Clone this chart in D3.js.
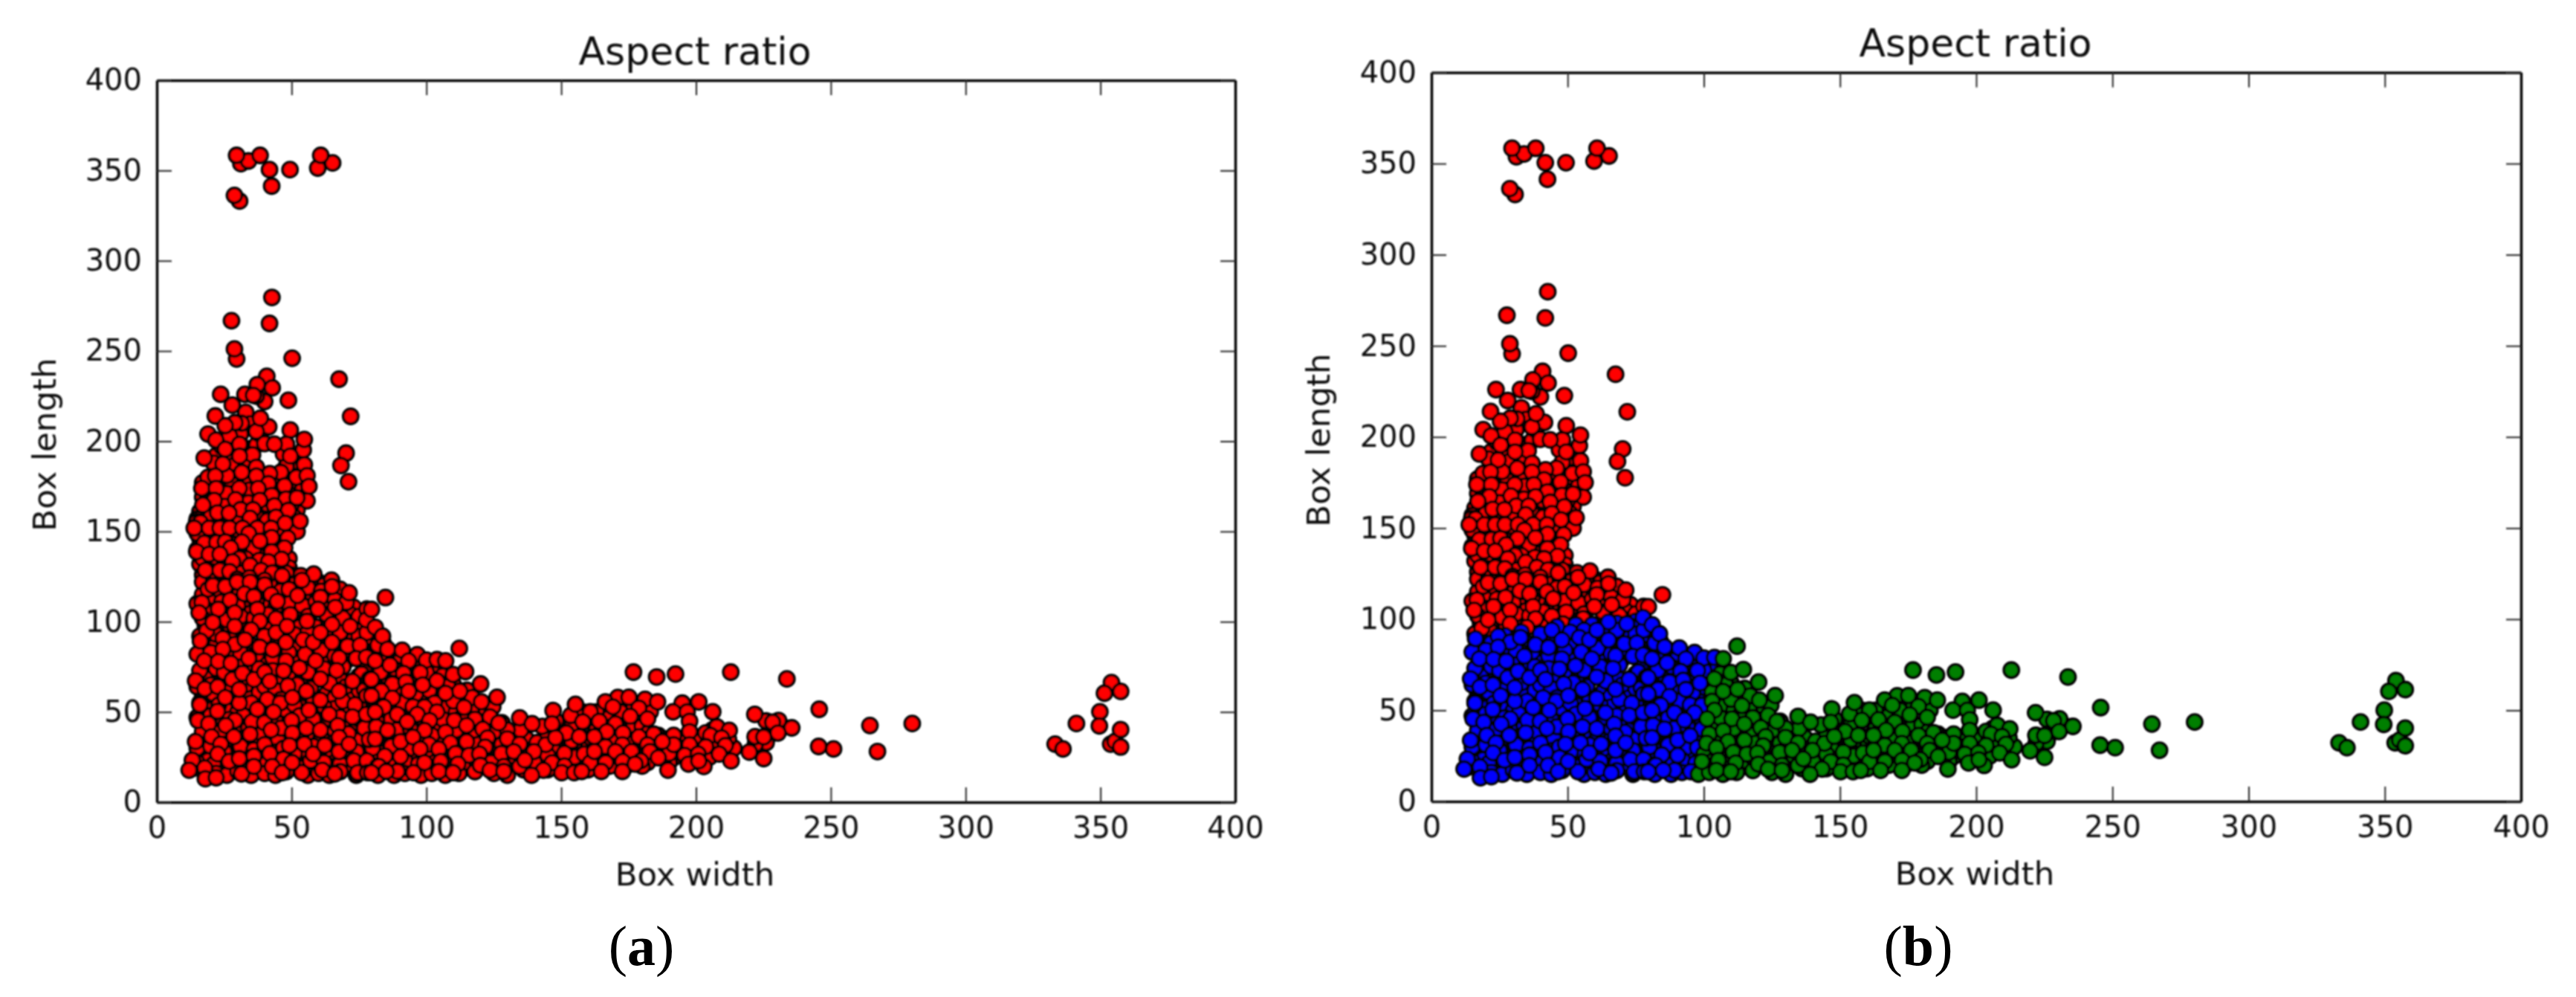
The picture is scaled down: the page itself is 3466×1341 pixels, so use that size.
<!DOCTYPE html>
<html><head><meta charset="utf-8"><script src="https://cdn.jsdelivr.net/npm/d3@7"></script>
<style>html,body{margin:0;background:#fff}svg{display:block}</style></head><body>
<svg id="c" width="3466" height="1341"></svg>
<script>
const chartTitle = "Aspect ratio", xName = "Box width", yName = "Box length";
const tickValues = [0,50,100,150,200,250,300,350,400];
const centroids = [[28,145],[47,45],[153,32]];
const clusterColors = ["#ff0000","#0000ff","#007f00"];

const deepColumn = [[22,192],[26,190],[31,190],[36,183],[43,177],[52,185],[17,177],[22,176],[28,176],[33,177],[39,177],[44,176],[49,173],[53,177],[17,169],[23,169],[28,171],[32,169],[36,170],[40,168],[45,168],[49,169],[53,171],[16,161],[20,162],[25,161],[32,160],[36,160],[39,161],[45,161],[48,158],[52,162],[18,154],[22,155],[26,155],[30,155],[35,154],[39,155],[44,154],[49,152],[52,150],[16,146],[20,145],[24,147],[28,146],[32,147],[35,145],[39,147],[44,146],[47,144],[15,140],[21,139],[24,140],[30,140],[35,138],[40,139],[45,138],[49,135],[16,132],[20,131],[24,132],[29,130],[32,131],[37,131],[40,132],[44,132],[49,130],[17,126],[22,126],[27,124],[32,126],[36,125],[41,126],[46,128],[50,126],[55,123],[60,122],[67,118]];
const deepBlock = [[17,115],[21,114],[26,114],[30,115],[34,118],[39,117],[44,118],[47,114],[50,112],[55,116],[58,114],[63,111],[68,114],[73,108],[18,106],[25,105],[33,107],[35,105],[40,108],[46,106],[52,107],[57,105],[62,108],[69,106],[75,99],[18,98],[23,97],[27,98],[32,99],[40,97],[46,96],[50,100],[53,97],[59,97],[63,96],[68,98],[74,96],[80,97],[19,87],[22,87],[27,88],[31,86],[35,87],[41,88],[46,84],[51,86],[56,86],[62,88],[68,89],[73,90],[78,86],[84,88],
[18,83],[24,79],[29,80],[33,82],[37,77],[41,79],[45,78],[51,79],[55,77],[61,79],[64,77],[70,78],[76,79],[81,83],[87,81],[90,78],[18,71],[20,70],[25,68],[30,71],[34,72],[38,69],[43,69],[46,68],[51,71],[54,69],[58,70],[64,71],[68,68],[75,70],[80,72],[85,70],[90,68],[96,74],[103,73],[106,70],[17,59],[21,60],[25,62],[29,59],[34,60],[38,61],[43,60],[47,59],[53,60],[58,58],[63,60],[66,58],[71,60],[75,62],[81,61],[85,58],[90,60],[96,65],[99,58],[103,60],[110,65],[115,62],
[18,51],[21,52],[26,51],[30,50],[34,51],[40,49],[43,53],[48,51],[53,53],[58,51],[61,50],[66,52],[71,51],[75,49],[80,53],[84,48],[92,50],[95,48],[101,50],[107,52],[111,50],[117,50],[122,52],[18,43],[23,44],[27,43],[32,42],[37,42],[41,42],[47,43],[52,43],[57,44],[62,44],[65,46],[71,43],[74,42],[79,45],[85,43],[90,44],[97,43],[104,41],[109,42],[116,43],[122,42],[128,44],
[18,35],[21,34],[26,34],[31,33],[37,34],[42,36],[45,34],[52,35],[57,35],[60,33],[65,35],[70,35],[74,34],[81,39],[86,35],[92,37],[98,34],[103,36],[106,34],[112,36],[117,34],[124,36],[127,33],[133,35],[18,27],[21,27],[27,27],[31,28],[34,29],[39,28],[44,28],[48,26],[54,28],[60,28],[65,27],[70,26],[77,27],[82,28],[88,28],[95,27],[100,26],[105,26],[110,30],[117,28],[122,27],[126,26],[135,26],
[14,19],[19,23],[24,19],[29,20],[34,19],[39,18],[44,21],[49,19],[54,20],[59,19],[64,20],[70,19],[75,20],[80,20],[84,20],[90,20],[95,19],[101,19],[106,20],[110,19],[116,19],[121,20],[127,22],[132,20],[137,19]];
const deepTail = [[133,31],[137,35],[141,33],[145,38],[150,35],[152,44],[156,40],[158,33],[162,44],[166,43],[169,40],[173,43],[176,40],[180,42],[181,34],[186,37],[189,35],[193,34],[196,36],[200,31],[206,34],[210,28],[214,30],[137,28],[142,25],[147,29],[153,30],[156,22],[162,24],[164,32],[168,33],[174,30],[178,32],[183,24],[187,29],[192,25],[198,26],[204,28],[141,18],[147,20],[153,22],[159,22],[163,20],[170,24],[174,20],[182,22],[190,22],[158,50],[165,50],[172,47],[177,53],[183,50],[228,38],[226,33],[222,32],[232,42],[226,45]];
const underColumn = [[24,197],[33,196],[37,198],[21,188],[29,187],[33,186],[50,188],[19,180],[26,181],[33,179],[45,180],[50,178],[53,181],
[19,172],[26,171],[34,173],[41,171],[45,172],[50,170],[54,173],[19,165],[25,164],[34,166],[41,165],[46,163],[50,165],[15,157],[20,158],[24,156],[29,157],[37,158],[41,156],[46,157],[51,158],
[15,149],[21,148],[25,150],[29,149],[36,148],[40,150],[45,149],[18,142],[21,141],[29,143],[33,142],[36,141],[41,143],[45,142],[17,135],[22,134],[26,136],[33,135],[38,134],[44,136],
[20,128],[25,129],[31,127],[36,128],[43,129],[48,127],[17,122],[21,123],[27,121],[33,123],[37,122],[43,121],[47,123],[52,122],[57,121],[62,120],[38,204],[31,204],[27,203],[33,216],[40,222],[37,225],[47,193],[52,192],[48,186]];
const underBlock = [[19,118],[24,116],[33,118],[37,119],[46,117],[49,118],[56,119],[61,117],[68,118],[15,110],[24,111],[30,109],[37,111],[44,108],[49,110],[54,109],[59,111],[66,112],[72,104],
[17,102],[26,101],[31,103],[36,102],[41,104],[47,101],[56,103],[63,104],[69,102],[75,103],[16,92],[22,93],[27,91],[33,93],[40,92],[45,90],[51,93],[56,94],[63,92],[68,94],[75,92],[80,91],
[15,82],[20,83],[26,81],[31,83],[37,82],[43,80],[49,83],[55,82],[61,84],[66,81],[72,83],[77,75],[84,80],[82,87],[16,73],[22,74],[25,72],[31,75],[38,74],[43,73],[48,76],[56,72],[62,74],[69,75],[76,71],[83,72],[88,74],[94,70],[100,72],
[15,64],[20,65],[27,63],[33,65],[40,64],[44,62],[52,65],[57,63],[64,66],[70,64],[77,62],[81,64],[86,62],[96,60],[101,62],[108,64],[16,55],[23,54],[30,56],[35,55],[39,53],[46,57],[51,54],[58,55],[62,53],[69,56],[75,54],[81,56],[91,55],[95,53],[103,55],[110,56],[117,58],
[15,47],[20,48],[27,46],[32,48],[37,47],[44,45],[53,48],[58,46],[64,44],[68,47],[75,46],[82,44],[87,46],[94,44],[100,48],[106,46],[113,47],[118,46],[17,39],[24,40],[30,38],[34,41],[39,38],[46,41],[54,39],[61,37],[66,40],[71,38],[77,41],[83,38],[89,40],[94,41],[102,37],[111,40],[118,38],[125,39],
[15,30],[20,31],[25,28],[31,31],[36,29],[40,32],[47,30],[51,27],[58,31],[63,29],[68,32],[74,28],[80,30],[87,31],[93,29],[101,32],[107,28],[113,30],[119,32],[125,31],[130,28],
[15,22],[21,21],[27,20],[32,23],[37,21],[41,22],[47,24],[52,20],[57,23],[62,22],[68,21],[73,19],[78,22],[86,22],[92,23],[97,21],[103,22],[108,23],[114,22],[118,24],[124,22],[130,23],
[18,17],[22,16],[26,15],[30,17],[35,15],[40,16],[44,15],[48,17],[56,15],[60,16],[64,15],[68,17],[74,15],[77,18],[82,15],[88,15],[92,16],[98,15],[102,16],[107,15],[112,16],[118,17],[125,16],[130,15],
[135,40],[148,45],[154,42],[163,40],[168,47],[172,50],[160,30],[155,25],[165,26],[170,35],[176,33],[182,38],[143,42],[145,26],[140,22],[133,25],[128,32],[130,40],[175,24],[180,20],[168,20],[160,18],[150,19],[145,18],[185,30],[190,27],[195,30],[205,25],[208,32],[212,35],[200,35],[206,40],[136,18],[154,34],[163,50],[171,58]];

const sparseTop = [[31.2,353.8],[34,355.3],[29.6,358.4],[38.3,358.4],[41.8,350.5],[42.6,341.4],[49.4,350.5],[59.7,351.4],[65.2,354.2],[60.8,358.4],[30.7,333.1],[28.8,336.2],[42.7,279.7],[27.7,266.8],[41.8,265.3],[29.6,245.6],[28.8,251.1],[50.2,246],[67.6,234.4],[71.9,213.8],[70.2,193.4],[68.3,186.6],[71.1,177.6]];
const columnPoints = [[40.8,236],[37.3,231.4],[42.8,229.6],[32.7,226],[35.8,225.5],[23.7,226],[28,220],[48.8,222.7],[21.7,214],[34.6,209.7],[31.4,210],[29,210.3],[41.5,208],[36.9,205.5],[38.4,212.7],[25.4,208.6],[19,204],[21.9,200.7],[49.5,206.2],[54.3,195.2],[54.7,201],[40,198.7],[48.1,198.4],[30.7,198.4],[43.6,198.4],[25.4,195.6],[17.6,190.7],[35.5,192.5],[30.7,191.8],[49.5,191.8],[24.5,187.4],[54.7,187],[36.9,185.6],[31.5,182.8],[46,182.8],[41.9,182],[21.7,180.8],[36.9,180.8],[51.8,180],[55.7,181],[41.4,176.6],[47.4,175.3],[16.7,173.9],[22,173.9],[30.6,173.9],[37.6,173.9],[56.4,175],[42.6,170],[47.9,168],[55.7,167],[52,168.7],[21.3,167.3],[17.1,164.7],[29.2,167.7],[38.2,167.3],[43.6,164.3],[31.1,162.2],[35.7,162.2],[22.5,160.4],[26.8,160.2],[48.8,161.8],[44.2,158],[34.6,157.4],[14.8,155.3],[16.2,155],[47.6,154.6],[53.1,155.7],[13.9,151.9],[19.4,151.9],[23.4,151.9],[27,151.9],[31.8,151.9],[37.3,151.9],[42.4,151.9],[34.1,148.9],[42.6,146.7],[48.6,146.4],[31.6,144.2],[38.2,144.7],[17.6,143.6],[22.2,143.9],[25.4,144.3],[27.4,140.9],[47.4,140.9],[14.8,138.8],[19.4,137.4],[23.4,137.4],[42.6,138.8],[46.3,134.7],[30.6,135],[28.1,133.3],[41.4,133.3],[34.6,131.3],[18,128.5],[23.4,128.5],[27,127.8],[38.7,128.5],[42.8,127.1],[46.5,125.5],[29.8,123.7],[34.4,124.4],[40,123],[53.4,125.5],[58.2,126.4],[64.8,123]];
const blockPoints = [[20.8,120],[25.4,119.5],[29.8,122],[34.6,122],[40,120.5],[53.8,123],[65,119.5],[16.7,110.6],[27.2,112],[32.5,115.5],[36,114],[42.4,115],[44.7,111.3],[52.2,114.5],[60.7,113.6],[70.3,110.6],[71.3,116],[15.7,105],[22.8,107],[28.9,105],[37.3,107],[44.2,101.7],[49.5,104],[59.8,107],[66.2,108],[77.9,107],
[18.5,95],[20.8,99.6],[28.9,97.5],[38.2,100.3],[35,95.5],[44.2,94],[48.3,97.5],[55.7,100.3],[65,98.5],[71.7,97.5],[77.9,94],[77.7,101],[16.2,89.3],[24.5,90.7],[29,87.5],[24.5,84.8],[32.7,90],[38.2,86],[43,84.5],[47.9,88.6],[54.3,90],[58,88.6],[60.7,94],[65,88.6],[70.8,86.5],[75.4,87],
[17.6,78.3],[22.8,78],[27.5,77],[34.1,79.7],[47.9,78.3],[52.9,74.4],[58.9,78.3],[67.6,80],[74,79.7],[80.4,78.3],[77.7,80.4],[14.4,67.3],[17.8,62.8],[22.6,64],[28,68],[31.8,71.4],[36,68],[40,72],[41.9,67],[47,72.8],[48.6,64.5],[60.7,68.3],[66.7,73],[72.6,67],[78.8,68.3],
[16,54],[25.4,58],[30.6,55],[30.6,62.5],[41,57],[45.8,55],[50.3,58],[55.5,61.5],[60.7,56.6],[67.6,61.5],[77.9,59],[73.5,54],[15.3,45.3],[19.2,43.5],[22.5,50.4],[29,45.3],[35.3,44.6],[37.3,51.5],[39.9,44],[43.3,50],[50,45.3],[56.4,51],[63.9,48.7],[72.6,47.3],[77.7,48.7],
[14.4,33.6],[20.3,36.3],[23.7,32.2],[25.6,42.5],[28.6,36.3],[34.6,37.7],[42.4,40],[50.3,38.4],[55.5,41],[60.7,40],[67.1,42.5],[67.6,36],[78.8,34.7],[81.4,41.8],[13.2,23.3],[17.8,19],[12,17.8],[22.6,26.7],[26.8,22.6],[30.6,24.2],[36,25.6],[41.9,27],[49.2,31.5],[54.7,32.2],[58,26.7],[62.3,31.5],[67.6,28],[73.1,23],[77.9,23],[71.3,32.2],
[18,13],[22,13.6],[31.4,15.7],[36,19.8],[42.8,19.8],[46.5,16.4],[53.8,16.4],[50.2,22],[61.4,17.8],[66,15.7],[74.5,16.4],[78.1,16.4],[81.8,19.8]];
const shoulderPoints = [[84.8,113.4],[79.6,106.8],[81,96.9],[83.7,92],[85.6,84.8],[91,84.2],[96.6,81.7],[81,78.3],[86.5,76],[93.4,78.3],[100,78.7],[103.9,79],[107.1,78.3],[112.2,85.2],[97.7,71.8],[91.5,71.4],[109.9,70.7],[114.5,72.4],[79.6,68],[87.4,65.5],[92.4,66.6],[98.6,65],[103.9,67.3],[120.1,65.5],[93.4,61.5],[83.3,61.5],[107.1,60.4],[112.4,61.5],[124.6,52.8],[126.2,58.1],[87.4,57.7],[79.6,59],[120.4,55.6],[99.3,52.8],[103.9,50.1],[114,52.6],[84.2,52.8],[89.2,48.7],[96.6,48.7],[134.6,46.7],[139.2,43.5],[147,50.8],[146.6,43.5],[153.5,48],[155.3,54.2],[160.8,50.1],[158,44.6],[81,50],[110.3,45.3],[92.9,44.6],[101.2,45.3],[123.6,47.3],[126.8,43.9],[114.9,42.5],[85.6,39.8],[99.3,39.8],[107.1,38.8],[120.9,40.5],[151.9,38.4],[160.8,35.7],[130,35.2],[90.4,33.6],[95,36.1],[114.9,33.6],[122.7,35.7],[108.9,32.9],[134.6,32.2],[144.3,31.9],[147.9,35.7],[156.7,36.3],[121.8,30.6],[81,35],[97.7,29.5],[104.6,29.5],[84.6,25.6],[90.4,25.3],[110.8,27],[127.8,27],[139.9,28.1],[151.2,27.1],[115.8,26],[119.7,26.7],[132.4,28.1],[158.5,26.7],[99.3,21.9],[105.3,22.6],[111.7,21.2],[120,20.5],[128.7,19.8],[134.6,19.8],[136.5,23.3],[146.6,21.9],[151.2,20.1],[160.8,21.9],[82.4,19.8],[89.2,17.1],[95.2,16.4],[104.6,17.1],[109.9,16.4],[123.6,17.8],[128.7,17.1],[143.4,17.8],[150.2,16.4],[154.8,16.4],[157.6,17.1],[139,15],[79.6,16.4],[85.1,17.1]];
const tailPoints = [[176.8,72.1],[185.4,69.4],[192.4,71],[212.9,72.1],[233.7,68.3],[245.7,51.5],[166.4,55.6],[175.1,58.1],[181.1,57],[185.7,55.6],[169.2,52.8],[194.9,54.9],[201,55.6],[178.8,52.2],[191.5,50.1],[206.2,50.1],[175.6,47.6],[182,46.2],[196.7,50.1],[197.6,44.9],[221.8,48.7],[164.1,44.9],[170.1,43.5],[230.6,45.3],[228.4,44.3],[207.7,41.8],[212.3,39.8],[235.5,41.2],[230.4,38.4],[221.9,36.3],[225.1,36.1],[203.6,38.4],[205.4,37],[209.5,35.7],[197.6,39.1],[166.9,39.1],[172.9,38.4],[162.3,36.3],[184.3,37.7],[178.8,36.3],[191.7,37],[166.4,30.8],[172.7,31.9],[182,31.9],[191.7,31.9],[197.6,31.9],[187.5,33.6],[203.6,30.8],[210.9,31.5],[162.3,28.1],[219.8,27.8],[208.6,26.7],[195.8,26],[200.8,26.7],[225.1,24.2],[170.1,28.1],[176.1,28.1],[182.9,28.1],[166.5,21.9],[172.8,22.6],[179.5,22.9],[186,24.7],[197.2,21.2],[202.9,19.8],[201,22.9],[213,22.9],[189.6,17.8],[164.9,17.1],[172.7,17.1],[177.4,21.2],
[245.5,30.9],[251,29.5],[264.5,42.5],[267.3,28.1],[280.2,43.6],[333.2,32.2],[336.1,29.5],[341.1,43.6],[349.8,50.1],[349.6,42.3],[354.1,66.3],[351.5,60.4],[357.5,61.4],[353.8,32.2],[355.4,33.6],[357.5,40.2],[357.5,30.6]];

const allPoints = [...deepColumn,...deepBlock,...deepTail,...underColumn,...underBlock,...sparseTop,...columnPoints,...blockPoints,...shoulderPoints,...tailPoints];
const clusterOf = p => d3.leastIndex(centroids, c => (c[0]-p[0])**2+(c[1]-p[1])**2);

const svg = d3.select("#c");
const defs = svg.append("defs");
defs.append("filter").attr("id","soft").attr("x","-2%").attr("y","-2%").attr("width","104%").attr("height","104%")
  .append("feGaussianBlur").attr("stdDeviation",0.8);

const panels = [
 {left:211,right:1662,top:108,bottom:1079,titleX:935,titleY:87,xlx:935,xly:1191,ylx:75,yly:598,tag:"a",tagX:863,clustered:false},
 {left:1926,right:3392,top:97.5,bottom:1078,titleX:2658,titleY:76,xlx:2657,xly:1190,ylx:1789,yly:592,tag:"b",tagX:2581,clustered:true}
];
const fam = '"DejaVu Sans"';
panels.forEach(P=>{
  const x = d3.scaleLinear().domain([0,400]).range([P.left,P.right]);
  const y = d3.scaleLinear().domain([0,400]).range([P.bottom,P.top]);
  const color = d3.scaleOrdinal().domain([0,1,2]).range(clusterColors);
  const g = svg.append("g").attr("filter","url(#soft)");
  const pts = P.clustered ? d3.sort(allPoints, clusterOf) : allPoints;
  g.append("g").selectAll("circle").data(pts).join("circle")
    .attr("cx",d=>x(d[0])).attr("cy",d=>y(d[1])).attr("r",10)
    .attr("fill",d=>P.clustered?color(clusterOf(d)):clusterColors[0])
    .attr("stroke","#000").attr("stroke-width",3.8);
  const mk=(ax,tx,lab)=>{
    const a=g.append("g").attr("transform",tx).call(ax.tickValues(tickValues).tickSizeInner(-20).tickSizeOuter(0).tickPadding(lab?20:0).tickFormat(lab?d3.format("d"):""));
    a.select(".domain").attr("stroke","#000").attr("stroke-width",3.5);
    a.selectAll(".tick line").attr("stroke","#222").attr("stroke-width",2);
    a.selectAll("text").attr("font-family",fam).attr("font-size",40).attr("fill","#111");
  };
  mk(d3.axisBottom(x),`translate(0,${P.bottom})`,true);
  mk(d3.axisTop(x),`translate(0,${P.top})`,false);
  mk(d3.axisLeft(y),`translate(${P.left},0)`,true);
  mk(d3.axisRight(y),`translate(${P.right},0)`,false);
  const T=(s,xp,yp,size,rot)=>g.append("text").text(s).attr("font-family",fam).attr("font-size",size).attr("fill","#111").attr("text-anchor","middle")
     .attr("transform",`translate(${xp},${yp})`+(rot?" rotate(-90)":""));
  T(chartTitle,P.titleX,P.titleY,52);
  T(xName,P.xlx,P.xly,43.5);
  T(yName,P.ylx,P.yly,43.5,true);
  const tag=svg.append("text").attr("x",P.tagX).attr("y",1298).attr("text-anchor","middle").attr("font-family",'"Liberation Serif"').attr("font-size",76).attr("fill","#000");
  tag.append("tspan").text("(");
  tag.append("tspan").attr("font-weight","bold").text(P.tag);
  tag.append("tspan").text(")");
});
</script></body></html>
